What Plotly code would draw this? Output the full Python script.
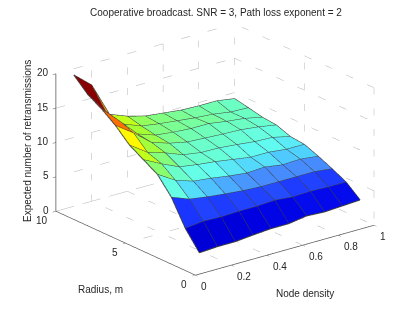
import plotly.graph_objects as go

density = [0.1, 0.2, 0.3, 0.4, 0.5, 0.6, 0.7, 0.8, 0.9, 1.0]
radius = [1, 2, 3, 4, 5, 6, 7, 8, 9, 10]
r1 = [1.6, 1.76, 1.76, 2.0, 2.2, 2.2, 2.6, 2.45, 2.6, 2.75]
r2 = [4.2, 4.5, 4.4, 4.5, 4.5, 4.65, 4.4, 4.5, 4.4, 4.4]
r3 = [7.8, 6.8, 6.4, 6.1, 5.85, 5.7, 5.7, 5.7, 5.7, 5.4]
r4 = [10.2, 8.6, 7.75, 7.45, 7.05, 6.75, 6.9, 6.5, 6.6, 6.3]
r5 = [11.4, 10.07, 8.9, 8.5, 8.2, 7.8, 7.4, 7.4, 7.1, 7.1]
r6 = [12.6, 10.8, 10.0, 9.0, 8.6, 8.55, 8.3, 8.0, 7.9, 7.3]
r7 = [14.5, 12.7, 10.6, 9.75, 9.2, 9.05, 8.9, 8.8, 8.5, 8.05]
r8 = [16.0, 13.5, 10.9, 10.0, 9.7, 9.5, 9.5, 9.1, 8.8, 8.25]
r9 = [17.2, 14.0, 11.4, 10.4, 10.0, 9.7, 9.4, 9.2, 8.8, 8.7]
r10 = [19.1, 16.9, 11.9, 10.9, 10.2, 9.9, 9.6, 9.5, 9.5, 9.1]
Z = [r1, r2, r3, r4, r5, r6, r7, r8, r9, r10]

x_ticks = [0, 0.2, 0.4, 0.6, 0.8, 1]
x_labels = ["0", "0.2", "0.4", "0.6", "0.8", "1"]
y_ticks = [0, 5, 10]
z_ticks = [0, 5, 10, 15, 20]
TITLE = "Cooperative broadcast. SNR = 3, Path loss exponent = 2"
FONT = "Liberation Sans"
TXT = "#262626"

color_levels = [0, 2, 3.5, 4.4, 5.7, 6.6, 7.5, 9, 10, 11, 12.5, 14, 15, 16, 17, 20]
color_stops = [(0, 0, 170), (0, 0, 225), (10, 30, 255), (30, 60, 255), (70, 140, 255), (80, 210, 255),
               (100, 255, 240), (110, 255, 190), (130, 255, 130), (170, 255, 40), (255, 255, 0),
               (255, 160, 0), (255, 60, 0), (255, 0, 0), (140, 0, 0), (110, 0, 0)]


def face_color(v):
    for n in range(len(color_levels) - 1):
        lo, hi = color_levels[n], color_levels[n + 1]
        if v <= hi:
            f = (v - lo) / (hi - lo)
            c0, c1 = color_stops[n], color_stops[n + 1]
            return "rgb(%d,%d,%d)" % tuple(c0[i] + f * (c1[i] - c0[i]) for i in range(3))
    return "rgb(%d,%d,%d)" % color_stops[-1]


nr, nd = len(radius), len(density)
vx, vy, vz, I, J, K, fc = [], [], [], [], [], [], []
for a in range(nr):
    for b in range(nd):
        vx.append(density[b]); vy.append(radius[a]); vz.append(Z[a][b])
for a in range(nr - 1):
    for b in range(nd - 1):
        p = a * nd + b
        col = face_color(Z[a][b])
        I += [p, p]; J += [p + 1, p + nd + 1]; K += [p + nd + 1, p + nd]
        fc += [col, col]

fig = go.Figure()
fig.add_trace(go.Mesh3d(x=vx, y=vy, z=vz, i=I, j=J, k=K, facecolor=fc, flatshading=True,
                        lighting=dict(ambient=1, diffuse=0, specular=0, fresnel=0, roughness=1),
                        hoverinfo="skip", showscale=False))

lx, ly, lz = [], [], []
for a in range(nr):
    lx += density + [None]; ly += [radius[a]] * nd + [None]; lz += Z[a] + [None]
for b in range(nd):
    lx += [density[b]] * nr + [None]; ly += radius + [None]; lz += [Z[a][b] for a in range(nr)] + [None]
fig.add_trace(go.Scatter3d(x=lx, y=ly, z=lz, mode="lines", line=dict(color="#404040", width=2),
                           hoverinfo="skip", showlegend=False))

gx, gy, gz = [], [], []
def seg(p, q):
    gx.extend([p[0], q[0], None]); gy.extend([p[1], q[1], None]); gz.extend([p[2], q[2], None])
X0, X1, Y0, Y1, Z0, Z1 = x_ticks[0], x_ticks[-1], y_ticks[0], y_ticks[-1], z_ticks[0], z_ticks[-1]
for t in x_ticks:
    seg((t, Y0, Z0), (t, Y1, Z0)); seg((t, Y1, Z0), (t, Y1, Z1))
for t in y_ticks:
    seg((X0, t, Z0), (X1, t, Z0)); seg((X1, t, Z0), (X1, t, Z1))
for t in z_ticks:
    seg((X0, Y1, t), (X1, Y1, t)); seg((X1, Y0, t), (X1, Y1, t))
seg((X1, Y0, Z0), (X1, Y0, Z1)); seg((X0, Y1, Z0), (X0, Y1, Z1))
fig.add_trace(go.Scatter3d(x=gx, y=gy, z=gz, mode="lines",
                           line=dict(color="#b4b4b4", width=1, dash="dot"),
                           hoverinfo="skip", showlegend=False))

ann = []
def label(x, y, z, text, xs, ys, anchor):
    ann.append(dict(x=x, y=y, z=z, text=text, showarrow=False, xshift=xs, yshift=ys, xanchor=anchor,
                    font=dict(family=FONT, size=10, color=TXT)))
for t, s in zip(x_ticks, x_labels):
    label(t, Y0, Z0, s, 4, -11, "left")
for t in y_ticks:
    label(X0, t, Z0, str(t), -6, -9, "right")
for t in z_ticks:
    label(X0, Y1, t, str(t), -5, 1, "right")

axis = dict(showgrid=False, zeroline=False, showbackground=False, showticklabels=False, showspikes=False,
            title=dict(text=""), showline=True, linecolor="#555555", linewidth=1.5, ticks="outside",
            ticklen=4, tickcolor="#555555", tickwidth=1)


def page_label(text, px, py, angle=0):
    return dict(text=text, x=px / 415, y=1 - py / 313, xref="paper", yref="paper", showarrow=False,
                xanchor="center", yanchor="middle", textangle=angle, font=dict(size=10, color=TXT))


fig.update_layout(
    width=415, height=313, margin=dict(l=0, r=0, t=0, b=0), paper_bgcolor="white", showlegend=False,
    font=dict(family=FONT, size=10, color=TXT),
    title=dict(text=TITLE, x=216 / 415, xanchor="center", y=1 - 12 / 313, yanchor="middle", font=dict(size=10, color=TXT)),
    scene=dict(
        domain=dict(x=[15 / 415, 1], y=[14 / 313, 1]),
        xaxis=dict(axis, range=[X0, X1], tickvals=x_ticks),
        yaxis=dict(axis, range=[Y0, Y1], tickvals=y_ticks),
        zaxis=dict(axis, range=[Z0, Z1], tickvals=z_ticks),
        aspectmode="manual", aspectratio=dict(x=1.516, y=1.516, z=0.985),
        camera=dict(eye=dict(x=-0.575 * 2.2, y=-0.736 * 2.2, z=0.358 * 2.2), up=dict(x=0, y=0, z=1),
                    center=dict(x=0, y=0, z=0), projection=dict(type="orthographic")),
        annotations=ann,
    ),
    annotations=[
        page_label("Expected number of retransmissions", 27, 141, -90),
        page_label("Radius, m", 100, 289),
        page_label("Node density", 305, 293),
    ],
)
fig.write_html("out.html", post_script="document.body.style.margin='0';", config=dict(displayModeBar=False))
